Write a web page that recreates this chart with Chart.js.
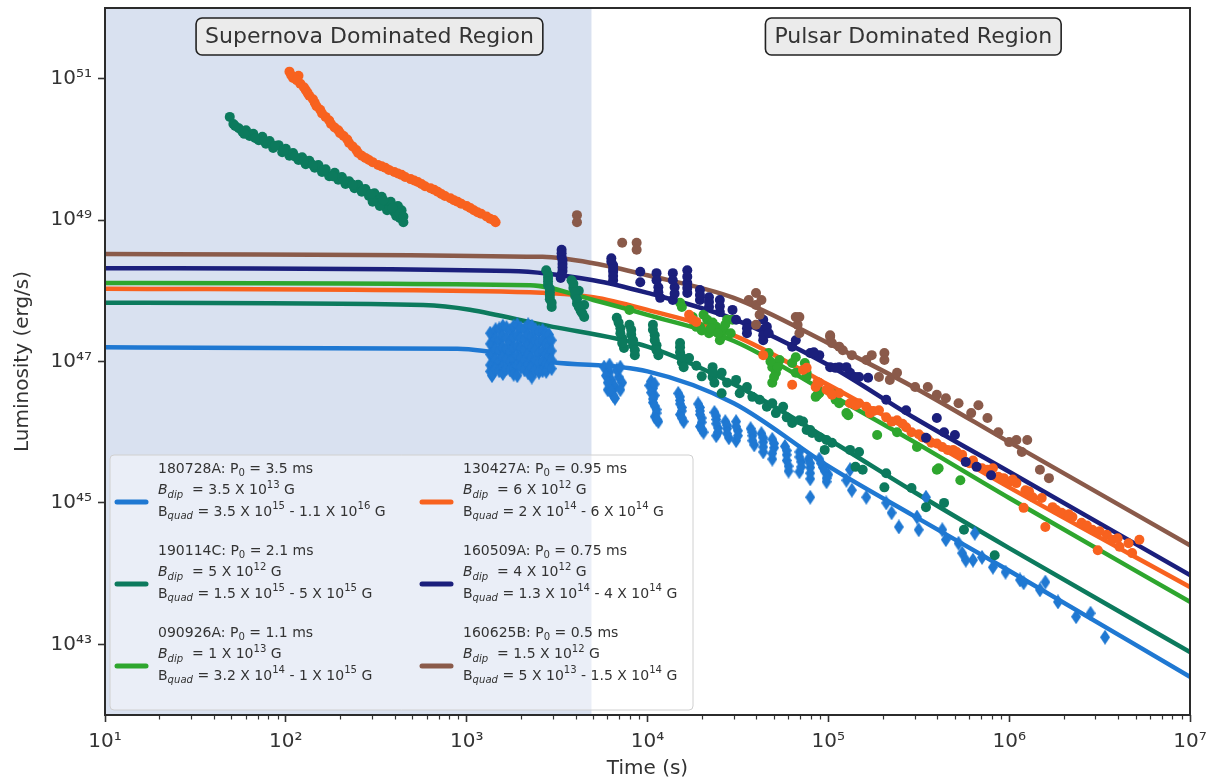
<!DOCTYPE html>
<html>
<head>
<meta charset="utf-8">
<script src="https://cdn.jsdelivr.net/npm/chart.js@4.4.1/dist/chart.umd.min.js"></script>
<style>
  html, body { margin: 0; padding: 0; background: #fff; }
  #wrap { width: 1211px; height: 783px; }
</style>
</head>
<body>
<div id="wrap"><canvas id="lumChart" width="1211" height="783"></canvas></div>
<script>
// ==================================================
// Magnetar light curves: luminosity vs time
// all values are read off the figure as
// [log10 time (s), log10 luminosity (erg/s)]
// ==================================================

// --------------------------------------------------
//  AXES / LABELS
// --------------------------------------------------
const xTickValues = [1e1, 1e2, 1e3, 1e4, 1e5, 1e6, 1e7];
const yTickValues = [1e43, 1e45, 1e47, 1e49, 1e51];
const xRange = [1e1, 1e7];
const yRange = [1e42, 1e52];
const supernovaEnd = 4900;   // end of shaded region (s)

const grbNames = ["180728A", "190114C", "090926A", "130427A", "160509A", "160625B"];
const spinPeriods = ["3.5", "2.1", "1.1", "0.95", "0.75", "0.5"];
const dipoleFields = [["3.5", "13"], ["5", "12"], ["1", "13"], ["6", "12"], ["4", "12"], ["1.5", "12"]];
const quadFields = [
    [["3.5", "15"], ["1.1", "16"]],
    [["1.5", "15"], ["5", "15"]],
    [["3.2", "14"], ["1", "15"]],
    [["2", "14"], ["6", "14"]],
    [["1.3", "14"], ["4", "14"]],
    [["5", "13"], ["1.5", "14"]]
];
const seriesColors = ["#1f78d2", "#0c7a5d", "#2ea62e", "#f8621f", "#1b1f7c", "#8a5a4a"];

// --------------------------------------------------
//  MODEL CURVES
// --------------------------------------------------
const model180728A = [[1,47.20],[2.95,47.18],[3.475,46.99],[4,46.86],[4.477,46.41],[5,45.52],[5.477,44.81],[6,44.04],[7,42.54]];
const model190114C = [[1,47.83],[2.76,47.80],[3.477,47.49],[4,47.21],[4.477,46.68],[5,45.90],[5.477,45.15],[6,44.36],[7,42.89]];
const model090926A = [[1,48.11],[3.35,48.08],[3.7,47.87],[4,47.66],[4.477,47.29],[5,46.55],[5.477,45.86],[6,45.07],[7,43.60]];
const model130427A = [[1,48.03],[3.35,47.98],[3.7,47.91],[4,47.73],[4.477,47.37],[5,46.67],[5.477,45.99],[6,45.22],[7,43.81]];
const model160509A = [[1,48.32],[3.24,48.28],[3.7,48.15],[4,47.97],[4.477,47.60],[5,46.95],[5.477,46.20],[6,45.44],[7,43.98]];
const model160625B = [[1,48.52],[3.42,48.48],[3.7,48.39],[4,48.22],[4.477,47.90],[5,47.26],[5.477,46.63],[6,45.86],[7,44.40]];

// --------------------------------------------------
//  OBSERVED DATA
// --------------------------------------------------
const obs180728A = [
    // early plateau blob
    [3.13,47.40],[3.13,47.25],[3.13,47.10],[3.13,46.95],[3.13,46.86],[3.14,46.80],
    [3.145,47.38],[3.145,47.24],[3.145,47.10],[3.145,46.96],[3.145,46.84],
    [3.16,47.45],[3.16,47.32],[3.16,47.18],[3.16,47.03],[3.16,46.90],
    [3.18,47.46],[3.18,47.30],[3.18,47.15],[3.18,47.00],[3.18,46.87],
    [3.20,47.50],[3.20,47.36],[3.20,47.20],[3.20,47.06],[3.20,46.92],[3.20,46.83],
    [3.22,47.48],[3.22,47.33],[3.22,47.18],[3.22,47.03],[3.22,46.90],
    [3.24,47.44],[3.24,47.28],[3.24,47.14],[3.24,47.00],[3.24,46.88],
    [3.26,47.50],[3.26,47.34],[3.26,47.19],[3.26,47.04],[3.26,46.90],[3.26,46.82],
    [3.28,47.52],[3.28,47.38],[3.28,47.22],[3.28,47.08],[3.28,46.94],[3.28,46.80],
    [3.30,47.47],[3.30,47.33],[3.30,47.19],[3.30,47.05],[3.30,46.92],
    [3.32,47.46],[3.32,47.31],[3.32,47.16],[3.32,47.02],[3.32,46.88],
    [3.34,47.52],[3.34,47.38],[3.34,47.24],[3.34,47.10],[3.34,46.96],[3.34,46.84],
    [3.36,47.50],[3.36,47.35],[3.36,47.20],[3.36,47.05],[3.36,46.92],[3.36,46.78],
    [3.38,47.45],[3.38,47.30],[3.38,47.16],[3.38,47.02],[3.38,46.88],
    [3.40,47.42],[3.40,47.27],[3.40,47.12],[3.40,46.98],[3.40,46.85],
    [3.42,47.44],[3.42,47.30],[3.42,47.15],[3.42,47.00],[3.42,46.87],
    [3.44,47.40],[3.44,47.25],[3.44,47.10],[3.44,46.96],[3.44,46.86],
    [3.455,47.38],[3.455,47.22],[3.455,47.08],[3.455,46.95],
    [3.47,47.30],[3.47,47.15],[3.47,47.02],[3.47,46.90],
    // pulsar-region stripes
    [3.76,46.92],[3.79,46.85],[3.80,46.74],[3.82,46.64],[3.81,46.52],[3.84,46.78],[3.86,46.70],[3.78,46.60],[3.83,46.88],
    [3.77,46.80],[3.78,46.70],[3.80,46.58],[3.85,46.60],[3.82,46.48],[3.79,46.95],[3.85,46.92],
    [4.02,46.72],[4.03,46.62],[4.04,46.52],[4.03,46.42],[4.05,46.32],[4.04,46.22],[4.06,46.15],
    [4.01,46.66],[4.02,46.56],[4.03,46.47],[4.04,46.37],[4.05,46.27],[4.05,46.18],[4.04,46.68],
    [4.17,46.55],[4.18,46.45],[4.19,46.35],[4.18,46.25],[4.20,46.15],
    [4.18,46.50],[4.18,46.40],[4.19,46.30],[4.19,46.20],
    [4.28,46.40],[4.29,46.30],[4.30,46.20],[4.29,46.08],[4.31,46.00],
    [4.29,46.35],[4.29,46.25],[4.30,46.14],[4.30,46.04],
    [4.37,46.28],[4.38,46.18],[4.39,46.06],[4.38,45.95],[4.38,46.23],[4.38,46.12],[4.39,46.00],
    [4.43,46.15],[4.44,46.05],[4.45,45.92],[4.44,46.10],[4.44,45.98],
    [4.49,46.15],[4.50,46.02],[4.49,45.88],[4.49,46.08],[4.50,45.95],
    [4.57,46.05],[4.58,45.95],[4.59,45.82],[4.58,46.00],[4.58,45.88],
    [4.63,45.98],[4.64,45.86],[4.64,45.72],[4.64,45.92],[4.64,45.79],
    [4.69,45.90],[4.70,45.78],[4.69,45.62],[4.70,45.84],[4.69,45.70],
    [4.76,45.80],[4.77,45.68],[4.78,45.45],[4.77,45.74],[4.77,45.60],[4.78,45.52],
    [4.84,45.72],[4.85,45.58],[4.84,45.44],[4.84,45.65],[4.85,45.51],
    [4.89,45.62],[4.90,45.50],[4.90,45.34],[4.90,45.56],[4.90,45.42],
    [4.95,45.62],[4.97,45.50],[5.00,45.40],[4.99,45.30],[4.90,45.08],[4.96,45.56],[4.98,45.45],[4.99,45.35],
    [5.10,45.32],[5.12,45.47],[5.13,45.18],[5.21,45.08],[5.32,45.00],[5.35,44.86],[5.39,44.66],
    [5.49,44.80],[5.50,44.62],[5.54,45.08],[5.63,44.62],[5.65,44.48],[5.72,44.43],[5.74,44.29],
    [5.80,44.19],[5.85,44.23],[5.91,44.09],[5.98,44.02],[6.06,43.91],[6.20,43.88],[6.27,43.60],
    [6.37,43.39],[6.45,43.44],[6.53,43.10],[5.81,44.57],[5.76,44.19],[6.08,43.87],[6.17,43.77]
];

const obs190114C = [
    // supernova track
    [1.69,50.46],[1.71,50.36],[1.74,50.30],[1.76,50.25],[1.78,50.27],[1.80,50.19],[1.82,50.22],[1.85,50.13],
    [1.87,50.18],[1.89,50.08],[1.91,50.12],[1.93,50.02],[1.96,50.06],[1.98,49.96],[2.00,50.01],[2.02,49.91],
    [2.04,49.95],[2.07,49.85],[2.09,49.89],[2.11,49.79],[2.13,49.84],[2.16,49.74],[2.18,49.78],[2.20,49.68],
    [2.22,49.72],[2.24,49.62],[2.27,49.67],[2.29,49.57],[2.31,49.61],[2.33,49.51],[2.35,49.55],[2.38,49.45],
    [2.40,49.50],[2.42,49.40],[2.44,49.44],[2.46,49.34],[2.49,49.38],[2.51,49.28],[2.53,49.33],[2.55,49.20],
    [2.58,49.26],[2.60,49.11],[2.62,49.20],[2.63,49.03],[2.64,49.14],[2.65,48.97],[2.61,49.06],[2.56,49.14],
    [2.52,49.20],[2.48,49.26],
    [1.72,50.33],[1.77,50.22],[1.83,50.16],[1.88,50.12],[1.94,50.05],[1.99,49.99],[2.05,49.90],[2.10,49.84],
    [2.15,49.78],[2.21,49.71],[2.26,49.62],[2.32,49.56],[2.37,49.50],[2.43,49.43],[2.47,49.37],[2.54,49.28],
    [2.59,49.17],[2.63,49.09],[2.65,49.05],
    // pulsar region
    [3.44,48.29],[3.45,48.18],[3.45,48.08],[3.46,47.98],[3.46,47.88],[3.47,47.77],
    [3.45,48.23],[3.45,48.13],[3.46,48.03],[3.46,47.93],[3.47,47.83],
    [3.58,48.15],[3.59,48.04],[3.60,47.93],[3.61,47.82],[3.63,47.72],[3.65,47.63],[3.65,47.80],[3.62,48.00],
    [3.59,48.10],[3.60,47.98],[3.61,47.88],[3.62,47.77],[3.64,47.68],
    [3.83,47.62],[3.85,47.47],[3.86,47.33],[3.87,47.19],[3.90,47.52],[3.91,47.38],[3.92,47.23],[3.93,47.09],
    [3.84,47.55],[3.85,47.40],[3.86,47.26],[3.91,47.45],[3.92,47.30],[3.93,47.16],
    [4.03,47.52],[4.04,47.37],[4.05,47.23],[4.06,47.09],[4.03,47.45],[4.04,47.30],[4.05,47.16],
    [4.18,47.26],[4.18,47.13],[4.19,46.99],[4.23,47.05],[4.27,46.94],[4.30,46.79],
    [4.18,47.20],[4.19,47.06],[4.20,46.92],
    [4.36,46.92],[4.36,46.78],[4.41,46.84],[4.44,46.70],[4.41,46.55],[4.36,46.85],[4.37,46.70],
    [4.49,46.74],[4.51,46.55],[4.55,46.64],[4.58,46.50],[4.62,46.46],[4.66,46.36],[4.69,46.41],[4.71,46.27],
    [4.75,46.36],[4.77,46.21],[4.80,46.13],[4.84,46.17],[4.88,46.03],[4.91,45.99],[4.95,45.93],[4.99,45.89],
    [5.02,45.85],[5.12,45.75],[5.15,45.51],[5.19,45.47],[4.86,46.15],[4.90,46.03],[4.98,45.75],[5.17,45.72],
    [5.32,45.42],[5.31,45.22],[5.46,45.21],[5.54,44.94],[5.64,45.00],[5.75,44.62],[5.92,44.26]
];

const obs090926A = [
    [3.90,47.73],[4.18,47.83],[4.19,47.77],[4.25,47.63],[4.27,47.49],[4.29,47.49],[4.33,47.59],[4.34,47.40],
    [4.38,47.49],[4.40,47.30],[4.41,47.35],[4.44,47.59],[4.47,47.59],[4.31,47.66],[4.36,47.55],[4.42,47.45],
    [4.46,47.40],[4.26,47.56],[4.30,47.44],[4.35,47.47],[4.39,47.40],[4.43,47.52],
    [4.67,47.12],[4.69,46.92],[4.69,46.70],[4.71,46.84],[4.73,47.02],[4.68,47.00],[4.70,46.78],[4.72,46.92],
    [4.80,46.98],[4.82,47.06],[4.82,46.84],[4.87,46.98],[4.88,46.84],[4.88,46.78],[4.93,46.50],[4.94,46.53],
    [4.95,46.55],[5.02,46.55],[5.04,46.46],[5.06,46.41],[5.10,46.27],[5.11,46.24],[5.27,45.96],[5.38,46.00],
    [5.49,45.79],[5.60,45.47],[5.61,45.49],[5.73,45.32]
];

const obs130427A = [
    // supernova track
    [2.02,51.10],[2.04,51.01],[2.07,51.04],[2.08,50.93],[2.11,50.84],[2.13,50.76],[2.16,50.66],[2.19,50.56],
    [2.22,50.46],[2.25,50.36],[2.29,50.27],[2.32,50.19],[2.35,50.09],[2.39,49.99],[2.42,49.91],[2.46,49.85],
    [2.51,49.78],[2.55,49.74],[2.60,49.68],[2.64,49.64],[2.69,49.58],[2.73,49.54],[2.77,49.48],[2.82,49.43],
    [2.86,49.37],[2.91,49.31],[2.95,49.26],[3.00,49.20],[3.04,49.14],[3.08,49.09],[3.13,49.02],[3.16,48.97],
    [2.03,51.05],[2.06,50.98],[2.10,50.88],[2.12,50.80],[2.15,50.71],[2.17,50.61],[2.20,50.51],[2.24,50.41],
    [2.27,50.31],[2.30,50.23],[2.34,50.14],[2.37,50.04],[2.40,49.95],[2.44,49.88],[2.48,49.82],[2.53,49.76],
    [2.57,49.71],[2.62,49.66],[2.66,49.61],[2.71,49.56],[2.75,49.51],[2.80,49.45],[2.84,49.40],[2.88,49.34],
    [2.93,49.28],[2.97,49.23],[3.02,49.17],[3.06,49.11],[3.11,49.05],[3.15,49.00],
    // pulsar region
    [4.23,47.66],[4.25,47.59],[4.27,47.56],[4.64,47.09],[4.80,46.67],[4.86,46.88],[4.93,46.64],[4.95,46.70],
    [5.01,46.57],[5.06,46.55],[5.12,46.41],[5.17,46.41],[4.88,46.91],[4.94,46.71],[4.99,46.60],[5.02,46.53],
    [5.15,46.38],[5.21,46.36],[5.23,46.27],[5.28,46.31],[5.32,46.21],[5.38,46.17],[5.43,46.07],[5.46,46.00],
    [5.52,45.93],[5.57,45.85],[5.63,45.79],[5.69,45.75],[5.74,45.68],[5.78,45.56],[5.85,45.49],[5.91,45.49],
    [5.94,45.37],[6.00,45.30],[6.04,45.28],[6.09,45.18],[6.13,45.08],[6.18,45.07],[6.24,44.94],[6.29,44.86],
    [6.35,44.80],[6.40,44.72],[6.46,44.62],[6.54,44.55],[6.57,44.48],[6.61,44.38],[6.66,44.43],[6.72,44.48],
    [6.68,44.29],[6.49,44.33],[6.20,44.66],[6.08,44.93],
    [5.25,46.30],[5.35,46.15],[5.41,46.12],[5.50,45.97],[5.55,45.90],[5.60,45.84],[5.66,45.75],[5.71,45.72],
    [5.80,45.60],[5.88,45.47],[5.97,45.35],[6.02,45.33],[6.11,45.16],[6.26,44.90],[6.33,44.84],[6.43,44.68],
    [6.50,44.60],[6.60,44.50]
];

const obs160509A = [
    [3.525,48.58],[3.525,48.48],[3.53,48.38],[3.53,48.28],[3.52,48.18],
    [3.525,48.53],[3.53,48.43],[3.53,48.33],[3.525,48.23],
    [3.80,48.46],[3.81,48.36],[3.81,48.27],[3.81,48.15],[3.80,48.41],[3.81,48.31],[3.81,48.21],
    [3.96,48.27],[3.96,48.12],
    [4.05,48.25],[4.06,48.05],[4.07,47.90],[4.05,48.15],[4.06,47.98],
    [4.14,48.25],[4.15,48.05],[4.14,47.87],[4.14,48.15],[4.15,47.96],
    [4.22,48.29],[4.22,48.11],[4.22,47.97],[4.22,48.20],[4.22,48.04],
    [4.29,48.01],[4.29,47.87],[4.29,47.94],[4.34,47.91],[4.34,47.77],[4.34,47.84],
    [4.40,47.87],[4.40,47.70],[4.40,47.78],[4.47,47.73],
    [4.49,47.59],[4.55,47.54],[4.55,47.40],[4.55,47.47],[4.64,47.59],[4.64,47.30],[4.64,47.45],[4.64,47.37],
    [4.66,47.49],[4.67,47.40],[4.80,47.21],
    [4.82,47.30],[4.90,47.12],[4.95,47.09],[5.01,46.92],[5.06,46.92],[5.12,46.84],[5.17,46.78],
    [4.92,47.13],[5.04,46.91],[5.10,46.92],[5.15,46.78],[5.22,46.77],[5.32,46.46],[5.43,46.31],[5.60,46.20],
    [5.64,46.00],[5.70,45.96],[5.54,45.92],[5.76,45.58],[5.82,45.51],[5.90,45.39]
];

const obs160625B = [
    [3.61,49.07],[3.61,48.97],[3.86,48.68],[3.94,48.68],[3.94,48.58],
    [4.56,47.87],[4.60,47.97],[4.60,47.80],[4.62,47.66],[4.60,47.52],[4.63,47.87],
    [4.82,47.63],[4.84,47.40],[4.83,47.52],[5.01,47.35],[5.06,47.21],[5.13,47.09],[5.21,47.02],
    [4.84,47.63],[5.01,47.37],[5.02,47.26],[5.08,47.16],[5.24,47.09],[5.31,47.12],[5.31,47.02],[5.28,46.78],
    [5.34,46.74],[5.38,46.84],[5.48,46.64],[5.55,46.64],[5.60,46.53],[5.65,46.48],[5.72,46.41],[5.79,46.27],
    [5.83,46.38],[5.88,46.20],[5.94,46.00],[6.00,45.86],[6.04,45.89],[6.10,45.89],[6.07,45.72],[6.17,45.47],
    [6.22,45.35]
];

const modelSeries = [model180728A, model190114C, model090926A, model130427A, model160509A, model160625B];
const obsSeries = [obs180728A, obs190114C, obs090926A, obs130427A, obs160509A, obs160625B];

// --------------------------------------------------
//  HELPERS
// --------------------------------------------------
const toPoints = arr => arr.map(([lt, lL]) => ({ x: Math.pow(10, lt), y: Math.pow(10, lL) }));
const supDigits = "⁰¹²³⁴⁵⁶⁷⁸⁹";
const powLabel = v => "10" + String(Math.round(Math.log10(v))).split("").map(d => supDigits[+d]).join("");
const FONT = "'DejaVu Sans', 'Liberation Sans', sans-serif";
const INK = "#333333";

// thin diamond marker like matplotlib's 'd'
function thinDiamond(color) {
    const c = document.createElement("canvas");
    c.width = 10;
    c.height = 15;
    const g = c.getContext("2d");
    g.fillStyle = color;
    g.beginPath();
    g.moveTo(5, 0);
    g.lineTo(10, 7.5);
    g.lineTo(5, 15);
    g.lineTo(0, 7.5);
    g.closePath();
    g.fill();
    return c;
}

// --------------------------------------------------
//  DATASETS
// --------------------------------------------------
const datasets = [];
modelSeries.forEach((m, i) => {
    datasets.push({
        type: "line",
        data: toPoints(m),
        borderColor: seriesColors[i],
        borderWidth: 4.5,
        pointRadius: 0,
        cubicInterpolationMode: "monotone",
        fill: false,
        order: 20 + i
    });
});
// blue drawn at the bottom, brown on top
const scatterOrder = [6, 5, 4, 3, 2, 1];
obsSeries.forEach((o, i) => {
    datasets.push({
        type: "scatter",
        data: toPoints(o),
        backgroundColor: seriesColors[i],
        borderWidth: 0,
        pointStyle: i === 0 ? thinDiamond(seriesColors[0]) : "circle",
        pointRadius: 5,
        order: scatterOrder[i]
    });
});

// --------------------------------------------------
//  RICH TEXT (sub / superscripts)
// --------------------------------------------------
function drawRich(ctx, x, y, parts, size) {
    let cx = x;
    parts.forEach(p => {
        const seg = typeof p === "string" ? { t: p } : p;
        const small = seg.sub || seg.sup;
        const fs = small ? size * 0.72 : size;
        ctx.font = `${seg.it ? "italic " : ""}${fs}px ${FONT}`;
        const dy = seg.sub ? size * 0.32 : (seg.sup ? -size * 0.38 : 0);
        ctx.fillText(seg.t, cx, y + dy);
        cx += ctx.measureText(seg.t).width;
    });
}

function legendLines(i) {
    const d = dipoleFields[i], q = quadFields[i];
    return [
        [`${grbNames[i]}: P`, { t: "0", sub: true }, ` = ${spinPeriods[i]} ms`],
        [{ t: "B", it: true }, { t: "dip", sub: true, it: true }, `  = ${d[0]} X 10`, { t: d[1], sup: true }, " G"],
        ["B", { t: "quad", sub: true, it: true }, ` = ${q[0][0]} X 10`, { t: q[0][1], sup: true },
            ` - ${q[1][0]} X 10`, { t: q[1][1], sup: true }, " G"]
    ];
}

// --------------------------------------------------
//  PLUGINS
// --------------------------------------------------
const decorPlugin = {
    id: "decor",
    beforeDatasetsDraw(chart) {
        const { ctx, chartArea: a, scales: { x } } = chart;
        ctx.save();
        ctx.fillStyle = "#d9e1f0";
        const x1 = x.getPixelForValue(supernovaEnd);
        ctx.fillRect(a.left, a.top, x1 - a.left, a.bottom - a.top);
        ctx.restore();
    },
    afterDatasetsDraw(chart) {
        const { ctx, chartArea: a, scales: { x } } = chart;
        ctx.save();

        // region labels
        const boxes = [
            { text: "Supernova Dominated Region", xv: 290 },
            { text: "Pulsar Dominated Region", xv: 2.95e5 }
        ];
        ctx.font = `22px ${FONT}`;
        ctx.textBaseline = "middle";
        boxes.forEach(b => {
            const w = ctx.measureText(b.text).width + 18;
            const cx = x.getPixelForValue(b.xv);
            const cy = a.top + 28.5;
            ctx.beginPath();
            ctx.roundRect(cx - w / 2, cy - 18.5, w, 37, 6);
            ctx.fillStyle = "#ebebeb";
            ctx.fill();
            ctx.lineWidth = 1.6;
            ctx.strokeStyle = "#222";
            ctx.stroke();
            ctx.fillStyle = INK;
            ctx.textAlign = "center";
            ctx.fillText(b.text, cx, cy + 1);
        });

        // legend
        const lx = a.left + 5, ly = a.bottom - 260, lw = 583, lh = 255;
        ctx.beginPath();
        ctx.roundRect(lx, ly, lw, lh, 4);
        ctx.fillStyle = "rgba(255,255,255,0.45)";
        ctx.fill();
        ctx.lineWidth = 1;
        ctx.strokeStyle = "#d0d0d0";
        ctx.stroke();

        ctx.textAlign = "left";
        ctx.textBaseline = "middle";
        grbNames.forEach((name, i) => {
            const col = Math.floor(i / 3), row = i % 3;
            const sx = lx + 5 + col * 305;
            const ty = ly + 14 + row * 82;
            ctx.strokeStyle = seriesColors[i];
            ctx.lineWidth = 5;
            ctx.lineCap = "round";
            ctx.beginPath();
            ctx.moveTo(sx + 2, ty + 33);
            ctx.lineTo(sx + 31, ty + 33);
            ctx.stroke();
            ctx.fillStyle = INK;
            legendLines(i).forEach((parts, k) => {
                drawRich(ctx, sx + 43, ty + k * 21.5, parts, 14);
            });
        });
        ctx.restore();
    },
    afterDraw(chart) {
        const { ctx, chartArea: a, scales: { x } } = chart;
        ctx.save();
        // minor ticks on the time axis
        ctx.strokeStyle = INK;
        ctx.lineWidth = 1.2;
        for (let n = 1; n < 7; n++) {
            for (let m = 2; m < 10; m++) {
                const px = Math.round(x.getPixelForValue(m * Math.pow(10, n))) + 0.5;
                ctx.beginPath();
                ctx.moveTo(px, a.bottom);
                ctx.lineTo(px, a.bottom + 4.5);
                ctx.stroke();
            }
        }
        // frame
        ctx.lineWidth = 2;
        ctx.strokeStyle = "#2b2b2b";
        ctx.strokeRect(a.left, a.top, a.right - a.left, a.bottom - a.top);
        ctx.restore();
    }
};

// --------------------------------------------------
//  CHART
// --------------------------------------------------
const axisGrid = {
    display: true,
    drawOnChartArea: false,
    drawTicks: true,
    tickLength: 7,
    tickWidth: 1.6,
    tickColor: INK
};

new Chart(document.getElementById("lumChart"), {
    type: "scatter",
    data: { datasets },
    options: {
        responsive: false,
        animation: false,
        events: [],
        devicePixelRatio: 1,
        layout: { padding: { top: 8, right: 21, left: 0, bottom: 0 } },
        plugins: { legend: { display: false }, tooltip: { enabled: false } },
        scales: {
            x: {
                type: "logarithmic",
                min: xRange[0],
                max: xRange[1],
                afterBuildTicks: s => { s.ticks = xTickValues.map(v => ({ value: v })); },
                afterFit: s => { s.height = 68; s.paddingLeft = 0; s.paddingRight = 0; },
                grid: axisGrid,
                border: { display: false },
                ticks: {
                    autoSkip: false,
                    maxRotation: 0,
                    padding: 8,
                    color: INK,
                    font: { family: FONT, size: 20 },
                    callback: v => powLabel(v)
                },
                title: {
                    display: true,
                    text: "Time (s)",
                    color: INK,
                    font: { family: FONT, size: 20 },
                    padding: { top: 0, bottom: 2 }
                }
            },
            y: {
                type: "logarithmic",
                min: yRange[0],
                max: yRange[1],
                afterBuildTicks: s => { s.ticks = yTickValues.map(v => ({ value: v })); },
                afterFit: s => { s.width = 105; s.paddingTop = 0; s.paddingBottom = 0; },
                grid: axisGrid,
                border: { display: false },
                ticks: {
                    autoSkip: false,
                    padding: 6,
                    color: INK,
                    font: { family: FONT, size: 20 },
                    callback: v => powLabel(v)
                },
                title: {
                    display: true,
                    text: "Luminosity (erg/s)",
                    color: INK,
                    font: { family: FONT, size: 20 },
                    padding: { top: 11, bottom: 0 }
                }
            }
        }
    },
    plugins: [decorPlugin]
});
</script>
</body>
</html>
